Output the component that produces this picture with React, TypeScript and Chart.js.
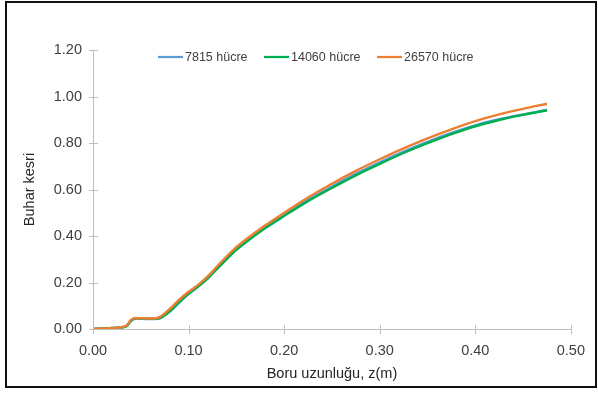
import React, { useEffect, useRef } from "react";
import { Chart, registerables } from "chart.js";

Chart.register(...registerables);

const zValues = [0, 0.01, 0.02, 0.03, 0.035, 0.04, 0.045, 0.05, 0.06, 0.065, 0.07, 0.08, 0.09, 0.10, 0.11, 0.12, 0.13, 0.14, 0.15, 0.16, 0.18, 0.20, 0.225, 0.25, 0.275, 0.30, 0.325, 0.35, 0.375, 0.40, 0.425, 0.45, 0.475];

const blue7815 = [0, 0.002, 0.004, 0.007, 0.012, 0.035, 0.045, 0.044, 0.043, 0.043, 0.046, 0.074, 0.113, 0.150, 0.182, 0.218, 0.261, 0.303, 0.343, 0.377, 0.437, 0.491, 0.556, 0.613, 0.667, 0.717, 0.763, 0.805, 0.843, 0.876, 0.902, 0.923, 0.942];
const green14060 = [0, 0.002, 0.004, 0.007, 0.012, 0.036, 0.046, 0.045, 0.044, 0.044, 0.047, 0.075, 0.115, 0.152, 0.183, 0.218, 0.260, 0.301, 0.340, 0.373, 0.433, 0.486, 0.550, 0.607, 0.661, 0.710, 0.757, 0.799, 0.838, 0.872, 0.899, 0.921, 0.941];
const orange26570 = [0, 0.002, 0.004, 0.008, 0.015, 0.040, 0.047, 0.046, 0.045, 0.045, 0.052, 0.085, 0.125, 0.160, 0.190, 0.226, 0.270, 0.313, 0.352, 0.385, 0.445, 0.500, 0.566, 0.625, 0.680, 0.730, 0.777, 0.820, 0.859, 0.894, 0.923, 0.947, 0.969];

const seriesLabels = ["7815 hücre", "14060 hücre", "26570 hücre"];
const seriesColors = ["#5B9BD5", "#00B050", "#ED7D31"];
const xTickValues = [0, 0.1, 0.2, 0.3, 0.4, 0.5];
const yTickValues = [0, 0.2, 0.4, 0.6, 0.8, 1.0, 1.2];

const FONT = "'Liberation Sans', Arial, sans-serif";

const crossTicks = {
  id: "crossTicks",
  afterDraw(chart: any) {
    const { ctx, chartArea, scales } = chart;
    ctx.save();
    ctx.strokeStyle = "#BFBFBF";
    ctx.lineWidth = 1;
    scales.x.ticks.forEach((t: any) => {
      const px = Math.round(scales.x.getPixelForValue(t.value)) + 0.5;
      ctx.beginPath();
      ctx.moveTo(px, chartArea.bottom - 4);
      ctx.lineTo(px, chartArea.bottom + 5);
      ctx.stroke();
    });
    scales.y.ticks.forEach((t: any) => {
      const py = Math.round(scales.y.getPixelForValue(t.value)) + 0.5;
      ctx.beginPath();
      ctx.moveTo(chartArea.left - 4, py);
      ctx.lineTo(chartArea.left + 5, py);
      ctx.stroke();
    });
    ctx.restore();
  },
};

const customLegend = {
  id: "customLegend",
  afterDraw(chart: any) {
    const { ctx } = chart;
    const y = 57;
    const starts = [158, 264, 377];
    ctx.save();
    ctx.font = `12.5px ${FONT}`;
    ctx.textBaseline = "middle";
    ctx.fillStyle = "#404040";
    seriesLabels.forEach((lab, i) => {
      const x0 = starts[i];
      ctx.strokeStyle = seriesColors[i];
      ctx.lineWidth = 2.25;
      ctx.beginPath();
      ctx.moveTo(x0, y);
      ctx.lineTo(x0 + 25, y);
      ctx.stroke();
      ctx.fillText(lab, x0 + 27, y + 0.5);
    });
    ctx.restore();
  },
};

export default function App() {
  const ref = useRef<HTMLCanvasElement | null>(null);

  useEffect(() => {
    if (!ref.current) return;
    const series = [blue7815, green14060, orange26570];
    const chart = new Chart(ref.current, {
      type: "line",
      data: {
        datasets: series.map((vals, i) => ({
          label: seriesLabels[i],
          data: zValues.map((z, j) => ({ x: z, y: vals[j] })),
          borderColor: seriesColors[i],
          backgroundColor: seriesColors[i],
          borderWidth: 2.4,
          pointRadius: 0,
          fill: false,
          cubicInterpolationMode: "monotone" as const,
          order: 2 - i,
        })),
      },
      options: {
        animation: false,
        responsive: false,
        maintainAspectRatio: false,
        layout: { padding: { left: 20, top: 50, right: 25, bottom: 16 } },
        plugins: {
          legend: { display: false },
          tooltip: { enabled: false },
        },
        scales: {
          x: {
            type: "linear",
            min: 0,
            max: 0.5,
            afterBuildTicks: (s: any) => {
              s.ticks = xTickValues.map((v) => ({ value: v }));
            },
            afterFit: (s: any) => {
              s.height = 54;
            },
            grid: { display: true, drawOnChartArea: false, drawTicks: false },
            border: { display: true, color: "#BFBFBF", width: 1 },
            ticks: {
              padding: 13,
              color: "#404040",
              font: { family: FONT, size: 14.5 },
              maxRotation: 0,
              callback: (v: any) => Number(v).toFixed(2),
            },
            title: {
              display: true,
              text: "Boru uzunluğu, z(m)",
              color: "#262626",
              font: { family: FONT, size: 14.5 },
              padding: { top: 0, bottom: 0 },
            },
          },
          y: {
            type: "linear",
            min: 0,
            max: 1.2,
            afterBuildTicks: (s: any) => {
              s.ticks = yTickValues.map((v) => ({ value: v }));
            },
            afterFit: (s: any) => {
              s.width = 73;
            },
            grid: { display: false, drawTicks: false },
            border: { display: true, color: "#BFBFBF", width: 1 },
            ticks: {
              padding: 11,
              color: "#404040",
              font: { family: FONT, size: 14.5 },
              callback: (v: any) => Number(v).toFixed(2),
            },
            title: {
              display: true,
              text: "Buhar kesri",
              color: "#262626",
              font: { family: FONT, size: 14.5 },
              padding: { top: 1, bottom: 0 },
            },
          },
        },
      },
      plugins: [crossTicks, customLegend],
    });
    return () => chart.destroy();
  }, []);

  return (
    <div style={{ position: "absolute", left: 0, top: 0, width: 598, height: 399, background: "#fff" }}>
      <canvas ref={ref} width={598} height={399} style={{ position: "absolute", left: 0, top: 0, width: 598, height: 399 }} />
      <div
        style={{
          position: "absolute",
          left: 5,
          top: 1,
          width: 592,
          height: 387,
          boxSizing: "border-box",
          border: "2px solid #111",
          pointerEvents: "none",
        }}
      />
    </div>
  );
}
